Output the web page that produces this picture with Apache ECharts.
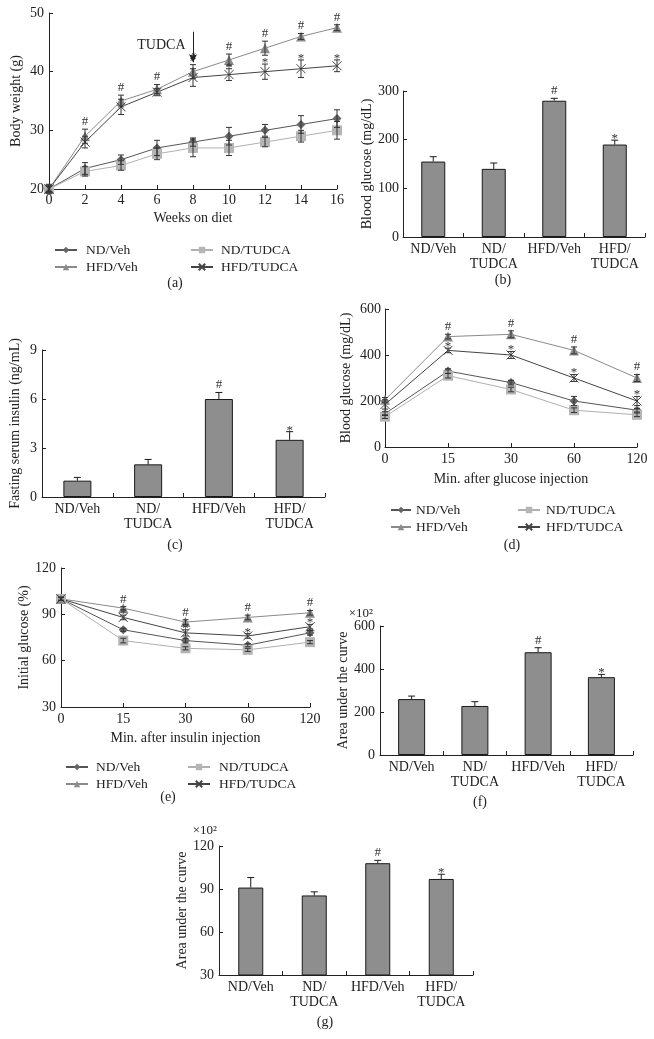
<!DOCTYPE html>
<html>
<head>
<meta charset="utf-8">
<script src="https://cdn.jsdelivr.net/npm/echarts/dist/echarts.min.js"></script>
<style>
  html, body { margin: 0; padding: 0; background: #fff; }
  #chart { width: 654px; height: 1039px; }
</style>
</head>
<body>
<div id="chart"></div>
<script>
// ---- data ----
var groups = ['ND/Veh', 'ND/TUDCA', 'HFD/Veh', 'HFD/TUDCA'];
var barCats = ['ND/Veh', 'ND/\nTUDCA', 'HFD/Veh', 'HFD/\nTUDCA'];

// (a) body weight
var weeks = [0, 2, 4, 6, 8, 10, 12, 14, 16];
var bwNDVeh = [20, 23.5, 25, 27, 28, 29, 30, 31, 32];
var bwNDVehErr = [0.5, 1, 0.8, 1.3, 0.7, 1.5, 1, 1.5, 1.5];
var bwNDTudca = [20, 23, 24, 26, 27, 27, 28, 29, 30];
var bwNDTudcaErr = [0.5, 0.8, 0.8, 1, 1.5, 1.3, 0.8, 1, 1.5];
var bwHFDVeh = [20, 29, 35, 37, 40, 42, 44, 46, 47.5];
var bwHFDVehErr = [0.5, 1.2, 1, 0.8, 1.2, 1, 1.2, 0.5, 0.5];
var bwHFDTudca = [20, 28, 34, 36.5, 39, 39.5, 40, 40.5, 41];
var bwHFDTudcaErr = [0.8, 1, 1.3, 0.6, 1.5, 1, 1.3, 1.5, 1];
var bwHFDVehSig = ['', '#', '#', '#', '#', '#', '#', '#', '#'];
var bwHFDTudcaSig = ['', '', '', '', '', '*', '*', '*', '*'];

// (b) blood glucose
var bg = [155, 140, 280, 190];
var bgErr = [10, 12, 5, 9];
var bgSig = ['', '', '#', '*'];

// (c) fasting serum insulin
var ins = [1.0, 2.0, 6.0, 3.5];
var insErr = [0.2, 0.3, 0.4, 0.5];
var insSig = ['', '', '#', '*'];

// (d) GTT
var gttTimes = ['0', '15', '30', '60', '120'];
var gttNDVeh = [145, 330, 280, 200, 160];
var gttNDVehErr = [8, 10, 10, 20, 8];
var gttNDTudca = [132, 310, 250, 160, 140];
var gttNDTudcaErr = [8, 10, 10, 10, 8];
var gttHFDVeh = [205, 480, 490, 420, 300];
var gttHFDVehErr = [10, 10, 15, 15, 15];
var gttHFDTudca = [185, 420, 400, 300, 200];
var gttHFDTudcaErr = [20, 10, 15, 15, 20];
var gttHFDVehSig = ['', '#', '#', '#', '#'];
var gttHFDTudcaSig = ['', '*', '*', '*', '*'];

// (e) ITT
var ittTimes = ['0', '15', '30', '60', '120'];
var ittNDVeh = [100, 80, 73, 70, 78];
var ittNDVehErr = [1, 1, 1.5, 1, 1.5];
var ittNDTudca = [100, 73, 68, 67, 72];
var ittNDTudcaErr = [1, 1.5, 1, 1, 1];
var ittHFDVeh = [100, 94, 85, 88, 91];
var ittHFDVehErr = [1, 1, 1.5, 1.5, 1.5];
var ittHFDTudca = [100, 88, 78, 76, 82];
var ittHFDTudcaErr = [1, 1.5, 2, 1.5, 1.5];
var ittHFDVehSig = ['', '#', '#', '#', '#'];
var ittHFDTudcaSig = ['', '*', '*', '*', '*'];

// (f) AUC of GTT (x10^2)
var aucGtt = [260, 228, 478, 362];
var aucGttErr = [14, 20, 21, 13];
var aucGttSig = ['', '', '#', '*'];

// (g) AUC of ITT (x10^2)
var aucItt = [91, 85.5, 108, 97];
var aucIttErr = [7, 2.5, 2, 3.3];
var aucIttSig = ['', '', '#', '*'];

// ---- styles ----
var FONT = 'Liberation Serif';
var TXT = '#222';
var crossPath = 'path://M0,0L10,10M0,10L10,0';
var look = {
    'ND/Veh':    {symbol: 'diamond', size: 9, color: '#666', line: '#555'},
    'ND/TUDCA':  {symbol: 'rect', size: 10, color: '#b5b5b5', line: '#b0b0b0'},
    'HFD/Veh':   {symbol: 'triangle', size: 10, color: '#8c8c8c', line: '#8a8a8a'},
    'HFD/TUDCA': {symbol: crossPath, size: 9, color: '#444', line: '#444'}
};

var chart = echarts.init(document.getElementById('chart'));

function lineSeries(name, gi, xs, vals, extra) {
    var lk = look[name];
    var s = {
        name: name, type: 'line', xAxisIndex: gi, yAxisIndex: gi,
        data: xs.map(function (x, i) { return [x, vals[i]]; }),
        symbol: lk.symbol, symbolSize: lk.size, showAllSymbol: true,
        lineStyle: {color: lk.line, width: 1},
        itemStyle: lk.symbol === crossPath
            ? {color: lk.color, borderColor: lk.color, borderWidth: 1}
            : {color: lk.color, borderWidth: 0},
        animation: false, z: 2
    };
    return Object.assign(s, extra || {});
}

function errSeries(gi, xs, vals, errs, sig, both, capW, color) {
    return {
        type: 'custom', xAxisIndex: gi, yAxisIndex: gi, z: 4, clip: false,
        animation: false, silent: true,
        data: xs.map(function (x, i) { return [x, vals[i], errs[i]]; }),
        renderItem: function (params, api) {
            var x = api.value(0), v = api.value(1), e = api.value(2);
            var top = api.coord([x, v + e]);
            var low = api.coord([x, both ? v - e : v]);
            var st = {stroke: color, lineWidth: 1};
            var kids = [
                {type: 'line', shape: {x1: top[0], y1: top[1], x2: low[0], y2: low[1]}, style: st},
                {type: 'line', shape: {x1: top[0] - capW / 2, y1: top[1], x2: top[0] + capW / 2, y2: top[1]}, style: st}
            ];
            if (both) {
                kids.push({type: 'line', shape: {x1: low[0] - capW / 2, y1: low[1], x2: low[0] + capW / 2, y2: low[1]}, style: st});
            }
            var s = sig[params.dataIndex];
            if (s) {
                kids.push({type: 'text', x: top[0], y: top[1] + (s === '*' ? 5 : -1),
                    style: {text: s, align: 'center', verticalAlign: 'bottom',
                        font: '13px "' + FONT + '"', fill: '#333'}});
            }
            return {type: 'group', children: kids};
        }
    };
}

function barSeries(gi, vals, width) {
    return {
        type: 'bar', xAxisIndex: gi, yAxisIndex: gi, data: vals, barWidth: width,
        itemStyle: {color: '#8e8e8e', borderColor: '#1a1a1a', borderWidth: 1},
        animation: false, silent: true, z: 2
    };
}

function yAxis(gi, min, max, interval, name, gap, labelMargin) {
    return {
        gridIndex: gi, type: 'value', min: min, max: max, interval: interval,
        name: name, nameLocation: 'middle', nameGap: gap,
        nameTextStyle: {fontFamily: FONT, fontSize: 14, color: TXT},
        axisLine: {show: true, lineStyle: {color: '#222', width: 1}},
        axisTick: {show: true, inside: true, length: 4, lineStyle: {color: '#222'}},
        axisLabel: {fontFamily: FONT, fontSize: 14, color: TXT, margin: labelMargin},
        splitLine: {show: false}
    };
}

function catAxis(gi, cats, boundary, name, gap) {
    return {
        gridIndex: gi, type: 'category', data: cats, boundaryGap: boundary,
        name: name || '', nameLocation: 'middle', nameGap: gap || 0,
        nameTextStyle: {fontFamily: FONT, fontSize: 14, color: TXT},
        axisLine: {show: true, lineStyle: {color: '#222', width: 1}},
        axisTick: {show: true, inside: true, length: 4, alignWithLabel: !boundary, lineStyle: {color: '#222'}},
        axisLabel: {fontFamily: FONT, fontSize: 14, color: TXT, margin: 5, interval: 0, lineHeight: 15},
        splitLine: {show: false}
    };
}

function legendCol(names, left, top, itemWidth, pad) {
    return {
        data: names, orient: 'vertical', left: left, top: top,
        itemWidth: itemWidth, itemHeight: 8, itemGap: 3, selectedMode: false,
        textStyle: {fontFamily: FONT, fontSize: 13.5, color: TXT, lineHeight: 14, padding: [0, 0, 0, pad]}
    };
}

function caption(text, x, y) {
    return {type: 'text', x: x, y: y,
        style: {text: text, align: 'center', verticalAlign: 'middle', font: '14px "' + FONT + '"', fill: TXT}};
}

var series = [];
// (a)
series.push(lineSeries('ND/Veh', 0, weeks, bwNDVeh));
series.push(lineSeries('ND/TUDCA', 0, weeks, bwNDTudca));
series.push(lineSeries('HFD/Veh', 0, weeks, bwHFDVeh, {
    markLine: {
        silent: true, symbol: ['none', 'arrow'], symbolSize: [6, 8], animation: false,
        lineStyle: {color: '#222', width: 1, type: 'solid'}, label: {show: false},
        data: [[{coord: [8, 46.8]}, {coord: [8, 41.6]}]]
    },
    markPoint: {
        silent: true, symbol: 'circle', symbolSize: 1, animation: false,
        itemStyle: {color: 'rgba(0,0,0,0)'},
        label: {show: true, position: 'left', distance: 7, formatter: 'TUDCA',
            fontFamily: FONT, fontSize: 14, color: TXT},
        data: [{coord: [8, 44.5]}]
    }
}));
series.push(lineSeries('HFD/TUDCA', 0, weeks, bwHFDTudca));
series.push(errSeries(0, weeks, bwNDVeh, bwNDVehErr, [], true, 6, '#333'));
series.push(errSeries(0, weeks, bwNDTudca, bwNDTudcaErr, [], true, 6, '#333'));
series.push(errSeries(0, weeks, bwHFDVeh, bwHFDVehErr, bwHFDVehSig, true, 6, '#333'));
series.push(errSeries(0, weeks, bwHFDTudca, bwHFDTudcaErr, bwHFDTudcaSig, true, 6, '#333'));
// (b)
series.push(barSeries(1, bg, 24));
series.push(errSeries(1, [0, 1, 2, 3], bg, bgErr, bgSig, false, 7, '#1a1a1a'));
// (c)
series.push(barSeries(2, ins, 28));
series.push(errSeries(2, [0, 1, 2, 3], ins, insErr, insSig, false, 7, '#1a1a1a'));
// (d)
var idx5 = [0, 1, 2, 3, 4];
series.push(lineSeries('ND/Veh', 3, idx5, gttNDVeh));
series.push(lineSeries('ND/TUDCA', 3, idx5, gttNDTudca));
series.push(lineSeries('HFD/Veh', 3, idx5, gttHFDVeh));
series.push(lineSeries('HFD/TUDCA', 3, idx5, gttHFDTudca));
series.push(errSeries(3, idx5, gttNDVeh, gttNDVehErr, [], true, 6, '#333'));
series.push(errSeries(3, idx5, gttNDTudca, gttNDTudcaErr, [], true, 6, '#333'));
series.push(errSeries(3, idx5, gttHFDVeh, gttHFDVehErr, gttHFDVehSig, true, 6, '#333'));
series.push(errSeries(3, idx5, gttHFDTudca, gttHFDTudcaErr, gttHFDTudcaSig, true, 6, '#333'));
// (e)
series.push(lineSeries('ND/Veh', 4, idx5, ittNDVeh));
series.push(lineSeries('ND/TUDCA', 4, idx5, ittNDTudca));
series.push(lineSeries('HFD/Veh', 4, idx5, ittHFDVeh));
series.push(lineSeries('HFD/TUDCA', 4, idx5, ittHFDTudca));
series.push(errSeries(4, idx5, ittNDVeh, ittNDVehErr, [], true, 6, '#333'));
series.push(errSeries(4, idx5, ittNDTudca, ittNDTudcaErr, [], true, 6, '#333'));
series.push(errSeries(4, idx5, ittHFDVeh, ittHFDVehErr, ittHFDVehSig, true, 6, '#333'));
series.push(errSeries(4, idx5, ittHFDTudca, ittHFDTudcaErr, ittHFDTudcaSig, true, 6, '#333'));
// (f)
series.push(barSeries(5, aucGtt, 27));
series.push(errSeries(5, [0, 1, 2, 3], aucGtt, aucGttErr, aucGttSig, false, 7, '#1a1a1a'));
// (g)
series.push(barSeries(6, aucItt, 25));
series.push(errSeries(6, [0, 1, 2, 3], aucItt, aucIttErr, aucIttSig, false, 7, '#1a1a1a'));

var weekAxis = {
    gridIndex: 0, type: 'value', min: 0, max: 16, interval: 2,
    name: 'Weeks on diet', nameLocation: 'middle', nameGap: 22,
    nameTextStyle: {fontFamily: FONT, fontSize: 14, color: TXT},
    axisLine: {show: true, lineStyle: {color: '#222', width: 1}},
    axisTick: {show: true, inside: true, length: 4, lineStyle: {color: '#222'}},
    axisLabel: {fontFamily: FONT, fontSize: 14, color: TXT, margin: 4},
    splitLine: {show: false}
};

chart.setOption({
    backgroundColor: '#fff',
    animation: false,
    grid: [
        {left: 49, top: 13, width: 288, height: 176},
        {left: 403, top: 91, width: 242, height: 146},
        {left: 42, top: 350, width: 283, height: 147},
        {left: 385, top: 309, width: 252, height: 138},
        {left: 61, top: 568, width: 249, height: 139},
        {left: 380, top: 626, width: 253, height: 129},
        {left: 219, top: 846, width: 254, height: 129}
    ],
    xAxis: [
        weekAxis,
        catAxis(1, barCats, true),
        catAxis(2, barCats, true),
        catAxis(3, gttTimes, false, 'Min. after glucose injection', 25),
        catAxis(4, ittTimes, false, 'Min. after insulin injection', 24),
        catAxis(5, barCats, true),
        catAxis(6, barCats, true)
    ],
    yAxis: [
        yAxis(0, 20, 50, 10, 'Body weight (g)', 26, 5),
        yAxis(1, 0, 300, 100, 'Blood glucose (mg/dL)', 25, 4),
        yAxis(2, 0, 9, 3, 'Fasting serum insulin (ng/mL)', 20, 5),
        yAxis(3, 0, 600, 200, 'Blood glucose (mg/dL)', 32, 4),
        yAxis(4, 30, 120, 30, 'Initial glucose (%)', 22, 5),
        yAxis(5, 0, 600, 200, 'Area under the curve', 30, 5),
        yAxis(6, 30, 120, 30, 'Area under the curve', 27, 5)
    ],
    legend: [
        legendCol(['ND/Veh', 'HFD/Veh'], 49, 238, 22, 4),
        legendCol(['ND/TUDCA', 'HFD/TUDCA'], 185, 238, 22, 3),
        legendCol(['ND/Veh', 'HFD/Veh'], 385, 498, 20, 0),
        legendCol(['ND/TUDCA', 'HFD/TUDCA'], 512, 498, 22, 1),
        legendCol(['ND/Veh', 'HFD/Veh'], 60, 755, 22, 3),
        legendCol(['ND/TUDCA', 'HFD/TUDCA'], 182, 755, 22, 4)
    ],
    graphic: [
        caption('(a)', 175, 283),
        caption('(b)', 503, 280),
        caption('(c)', 175, 545),
        caption('(d)', 512, 545),
        caption('(e)', 168, 797),
        caption('(f)', 480, 802),
        caption('(g)', 325, 1022),
        {type: 'text', x: 373, y: 614, style: {text: '×10²', align: 'right', verticalAlign: 'middle', font: '13px "' + FONT + '"', fill: TXT}},
        {type: 'text', x: 217, y: 831, style: {text: '×10²', align: 'right', verticalAlign: 'middle', font: '13px "' + FONT + '"', fill: TXT}}
    ],
    series: series
});
</script>
</body>
</html>
